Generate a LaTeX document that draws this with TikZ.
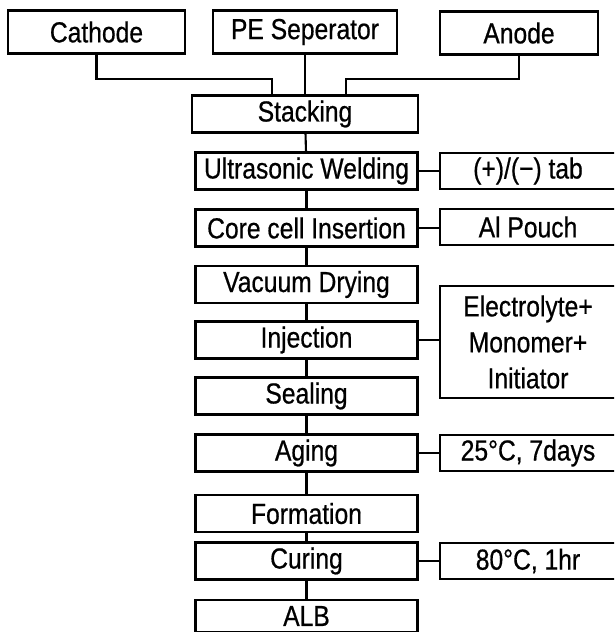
\documentclass[tikz,border=0pt]{standalone}
\usepackage{fontspec}
\setmainfont{Liberation Sans}[FakeStretch=0.85, FakeBold=0.6]
\usepackage{tikz}

\begin{document}
\begin{tikzpicture}[x=1pt, y=-1pt,
  box/.style={draw, line width=2.1pt, inner sep=0pt, align=center,
              font=\fontsize{29}{36}\selectfont},
  topbox/.style={box, minimum height=43pt},
  stepbox/.style={box, minimum width=222pt, minimum height=37pt},
  sidebox/.style={box, minimum width=176pt, minimum height=36pt},
  link/.style={line width=2.1pt}
]
  \useasboundingbox (0,0) rectangle (614,632);
  \clip (0,0) rectangle (614,632);
  % materials
  \node[topbox, minimum width=177pt] (cat) at (96.5,32) {Cathode};
  \node[topbox, minimum width=184pt] (sep) at (305,32) {PE Seperator};
  \node[topbox, minimum width=158pt] (ano) at (519,33) {Anode};
  % process steps
  \node[stepbox, minimum width=226pt] (stk) at (305,114) {Stacking};
  \node[stepbox] (uw)  at (306.5,171)   {Ultrasonic Welding};
  \node[stepbox] (ins) at (306.5,228)   {Core cell Insertion};
  \node[stepbox] (vac) at (306.5,284.5) {Vacuum Drying};
  \node[stepbox] (inj) at (306.5,340)   {Injection};
  \node[stepbox] (sea) at (306.5,396)   {Sealing};
  \node[stepbox] (age) at (306.5,453)   {Aging};
  \node[stepbox] (frm) at (306.5,513.5) {Formation};
  \node[stepbox] (cur) at (306.5,561)   {Curing};
  \node[stepbox, minimum height=32pt] (alb) at (306.5,616) {ALB};
  % inputs and conditions
  \node[sidebox] (tab)  at (528,171) {(+)/(−) tab};
  \node[sidebox] (pch)  at (528,227) {Al Pouch};
  \node[sidebox, minimum height=112pt] (elec) at (528,342) {Electrolyte+\\Monomer+\\Initiator};
  \node[sidebox] (agt)  at (528,453) {25°C, 7days};
  \node[sidebox] (crt)  at (528,561) {80°C, 1hr};
  % feed into stacking
  \draw[link] (cat.south) -- ++(0,24) -| ([xshift=-33pt]stk.north);
  \draw[link] (sep.south) -- (sep.south |- stk.north);
  \draw[link] (ano.south) -- ++(0,23) -| ([xshift=41pt]stk.north);
  % main line
  \draw[link] (stk) -- (uw);
  \draw[link] (uw) -- (ins);
  \draw[link] (ins) -- (vac);
  \draw[link] (vac) -- (inj);
  \draw[link] (inj) -- (sea);
  \draw[link] (sea) -- (age);
  \draw[link] (age) -- (frm);
  \draw[link] (frm) -- (cur);
  \draw[link] (cur) -- (alb);
  % side links
  \draw[link] (uw.east) -- (tab.west);
  \draw[link] (ins.east) -- (ins.east -| pch.west);
  \draw[link] (inj.east) -- (inj.east -| elec.west);
  \draw[link] (age.east) -- (agt.west);
  \draw[link] (cur.east) -- (crt.west);
\end{tikzpicture}
\end{document}
